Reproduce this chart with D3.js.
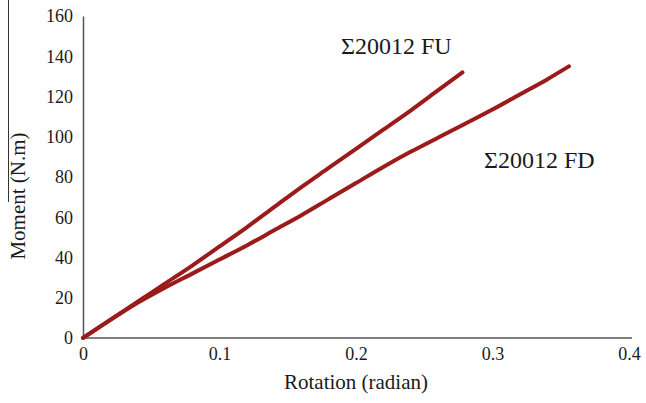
<!DOCTYPE html>
<html>
<head>
<meta charset="utf-8">
<script src="https://cdn.jsdelivr.net/npm/d3@7"></script>
<style>
  body { margin: 0; background: #fff; }
</style>
</head>
<body>
<div class="chart-container"></div>
<script>
const width = 646;
const height = 403;
const serif = '"Liberation Serif", "DejaVu Serif", serif';

// Rotation (radian) vs moment (N.m)
const fuRotation = [0, 0.02, 0.04, 0.06, 0.08, 0.10, 0.12, 0.14, 0.16, 0.18, 0.20, 0.22, 0.24, 0.26, 0.278];
const fuMoment   = [0, 9, 18, 27, 36, 45.5, 55, 65, 75, 84.5, 94, 103.5, 113, 123, 132];

const fdRotation = [0, 0.02, 0.04, 0.06, 0.08, 0.10, 0.12, 0.14, 0.16, 0.18, 0.20, 0.22, 0.24, 0.26, 0.28, 0.30, 0.32, 0.34, 0.356];
const fdMoment   = [0, 9, 17.5, 25, 32, 39, 46, 53.5, 61, 69, 77, 85, 92.5, 99.5, 106.5, 113.5, 121, 128.5, 135];

const xTicks = [0, 0.1, 0.2, 0.3, 0.4];
const yTicks = [0, 20, 40, 60, 80, 100, 120, 140, 160];

const seriesNames = ['\u03a320012 FU', '\u03a320012 FD'];

const margin = {left: 83, right: 16, top: 16, bottom: 65};

const x = d3.scaleLinear().domain([0, 0.4]).range([margin.left, width - margin.right - 1]);
const y = d3.scaleLinear().domain([0, 160]).range([height - margin.bottom, margin.top]);

const svg = d3.select('.chart-container')
  .append('svg')
  .attr('width', width)
  .attr('height', height);

// stray rule at the far left of the original figure
svg.append('line')
  .attr('x1', 8.5).attr('x2', 8.5)
  .attr('y1', 0).attr('y2', 202)
  .attr('stroke', '#333')
  .attr('stroke-width', 1);

// axes: plain lines, no tick marks (font set after the call, the axis overwrites it)
const xAxis = d3.axisBottom(x).tickValues(xTicks).tickSize(0).tickPadding(9)
  .tickFormat(d => d === 0 ? '0' : d3.format('.1f')(d));
svg.append('g')
  .attr('transform', `translate(0,${y(0)})`)
  .call(xAxis)
  .attr('font-family', serif)
  .attr('font-size', 18)
  .call(g => g.select('.domain').attr('stroke', '#555').attr('stroke-width', 1.5).attr('d', `M${x(0)},0H${x(0.4) + 3}`))
  .call(g => g.selectAll('text').attr('fill', '#1a1a1a'));

const yAxis = d3.axisLeft(y).tickValues(yTicks).tickSize(0).tickPadding(10);
svg.append('g')
  .attr('transform', `translate(${x(0)},0)`)
  .call(yAxis)
  .attr('font-family', serif)
  .attr('font-size', 18)
  .call(g => g.select('.domain').attr('stroke', '#555').attr('stroke-width', 1.5))
  .call(g => g.selectAll('text').attr('fill', '#1a1a1a'));

// axis titles
svg.append('text')
  .attr('x', 356)
  .attr('y', 389)
  .attr('text-anchor', 'middle')
  .attr('font-family', serif)
  .attr('font-size', 21)
  .attr('fill', '#1a1a1a')
  .text('Rotation (radian)');

svg.append('text')
  .attr('transform', `translate(25,${196}) rotate(-90)`)
  .attr('text-anchor', 'middle')
  .attr('font-family', serif)
  .attr('font-size', 21)
  .attr('fill', '#1a1a1a')
  .text('Moment (N.m)');

// curves
const line = d3.line()
  .x(d => x(d[0]))
  .y(d => y(d[1]))
  .curve(d3.curveMonotoneX);

const series = [
  d3.zip(fuRotation, fuMoment),
  d3.zip(fdRotation, fdMoment)
];

svg.append('g')
  .selectAll('path')
  .data(series)
  .enter()
  .append('path')
  .attr('d', line)
  .attr('fill', 'none')
  .attr('stroke', '#9b1a1a')
  .attr('stroke-width', 4)
  .attr('stroke-linecap', 'round')
  .attr('stroke-linejoin', 'round');

// series labels
svg.append('text')
  .attr('x', 341)
  .attr('y', 54)
  .attr('font-family', serif)
  .attr('font-size', 24)
  .attr('fill', '#1a1a1a')
  .text(seriesNames[0]);

svg.append('text')
  .attr('x', 484)
  .attr('y', 168)
  .attr('font-family', serif)
  .attr('font-size', 24)
  .attr('fill', '#1a1a1a')
  .text(seriesNames[1]);
</script>
</body>
</html>
